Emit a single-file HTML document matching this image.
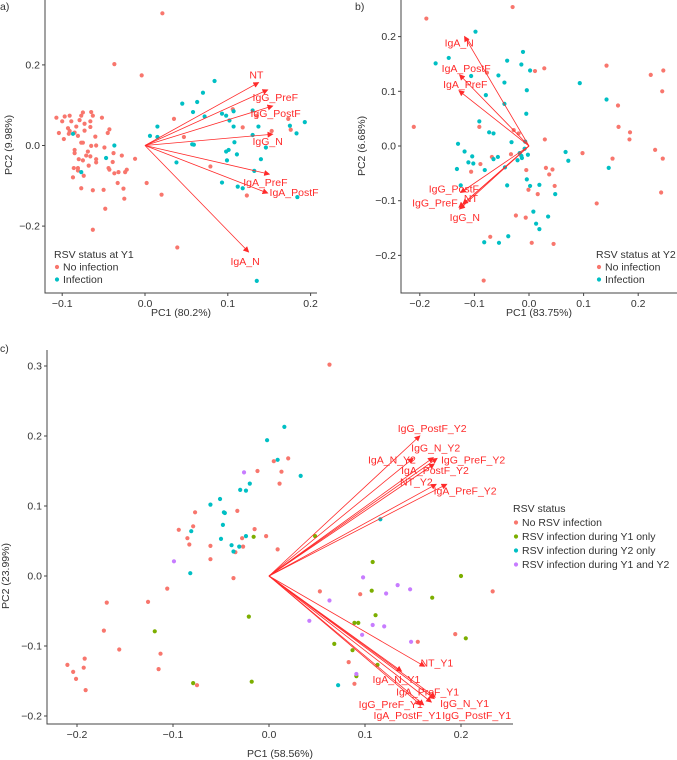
<!DOCTYPE html>
<html><head><meta charset="utf-8"><style>
body{margin:0;background:#fff;}
svg{display:block;font-family:"Liberation Sans",sans-serif;}
text{fill:#333;}
.lab{fill:#ff2a2a;font-size:10.5px;}
</style></head><body>
<svg id="chart" width="677" height="760" viewBox="0 0 677 760" xmlns="http://www.w3.org/2000/svg">
<defs><marker id="ah" markerWidth="6" markerHeight="6" refX="5" refY="3" orient="auto" markerUnits="userSpaceOnUse"><path d="M0,0 L6,3 L0,6 Z" fill="#ff2a2a"/></marker></defs>
</svg>
<script>
// ===== Panel a data =====
const aNoInfX=[0.021,-0.037,-0.004,0.035,0.047,0.002,0.020,0.039,-0.063,-0.048,-0.050,-0.063,-0.077,-0.033,-0.026,-0.025,-0.012,-0.022,-0.024,-0.028,-0.039,-0.044,-0.043,-0.037,-0.032,-0.038,-0.049,-0.059,-0.060,-0.065,-0.066,-0.059,-0.059,-0.068,-0.075,-0.080,-0.086,-0.087,-0.074,-0.081,-0.081,-0.071,-0.069,-0.085,-0.085,-0.077,-0.075,-0.081,-0.085,-0.092,-0.098,-0.104,-0.107,-0.100,-0.097,-0.091,-0.089,-0.093,-0.091,-0.083,-0.079,-0.077,-0.075,-0.073,-0.073,-0.066,-0.066,-0.065,-0.063,-0.052,-0.043,-0.045,0.106,0.118,0.135,0.153,0.173,0.176,0.079,0.123];
const aNoInfY=[0.328,0.202,0.174,0.066,0.021,-0.093,-0.122,-0.253,-0.209,-0.157,-0.110,-0.111,-0.106,-0.093,-0.107,-0.132,-0.033,-0.060,-0.066,-0.025,-0.041,-0.056,-0.060,-0.069,-0.066,-0.019,-0.005,0.000,0.022,-0.001,-0.027,-0.034,-0.042,-0.050,-0.037,-0.034,-0.056,-0.079,-0.075,-0.056,-0.062,-0.025,-0.015,-0.019,-0.011,0.007,0.007,0.024,0.032,0.029,0.016,0.031,0.069,0.060,0.072,0.074,0.060,0.043,0.036,0.047,0.063,0.074,0.082,0.054,0.037,0.060,0.046,0.083,0.074,0.069,0.040,0.031,0.090,0.045,0.074,0.036,0.066,0.039,-0.052,-0.124];
const aInfX=[0.084,0.070,0.063,0.045,0.058,0.072,0.093,0.098,0.107,0.102,0.107,0.130,0.137,0.130,0.146,0.108,0.101,0.098,0.099,0.111,0.140,0.132,0.093,0.112,0.118,0.184,0.175,0.183,0.193,0.015,0.015,0.006,0.038,0.057,0.059,0.135,-0.037,-0.047,-0.087,-0.077];
const aInfY=[0.160,0.131,0.108,0.104,0.083,0.072,0.079,0.074,0.085,0.062,0.047,0.087,0.047,0.026,-0.005,0.008,-0.011,-0.015,-0.037,-0.022,-0.034,-0.063,-0.092,-0.102,-0.106,-0.128,0.049,0.030,0.058,0.047,0.021,0.024,-0.042,0.003,0.002,-0.336,0.000,-0.031,0.029,-0.066];
const aVarNames=["NT","IgG_PreF","IgG_PostF","IgG_N","IgA_PreF","IgA_PostF","IgA_N"];
const aVarX=[0.137,0.148,0.154,0.154,0.150,0.148,0.125];
const aVarY=[0.156,0.138,0.098,0.028,-0.071,-0.118,-0.264];
const aXTicks=[-0.1,0.0,0.1,0.2];
const aYTicks=[-0.2,0.0,0.2];
const aLabOff=[[-9,-8],[-15,7],[-22,7],[-20,7],[-26,8],[2,-1],[-18,9]];
// ===== Panel b data =====
const bNoInfX=[-0.030,-0.188,-0.211,-0.077,0.011,0.028,0.142,0.223,0.246,0.244,0.163,0.164,0.185,0.184,0.231,0.245,0.242,0.153,0.098,0.124,0.029,-0.028,-0.019,-0.091,-0.033,-0.068,-0.089,-0.106,-0.005,0.031,0.043,0.037,0.047,-0.001,0.016,-0.024,-0.006,0.005,-0.071,0.045,-0.083];
const bNoInfY=[0.254,0.233,0.035,0.134,0.137,0.142,0.147,0.130,0.138,0.100,0.074,0.035,0.025,0.012,-0.007,-0.023,-0.085,-0.023,-0.013,-0.105,0.012,0.029,0.023,0.035,-0.015,-0.020,-0.033,-0.047,-0.044,-0.040,-0.043,-0.052,-0.073,-0.080,-0.088,-0.127,-0.131,-0.177,-0.166,-0.179,-0.246];
const bInfX=[-0.098,-0.147,-0.171,-0.011,-0.040,-0.014,0.002,-0.056,-0.106,-0.045,-0.004,-0.079,0.093,0.142,-0.045,-0.005,-0.091,-0.073,-0.065,-0.032,-0.007,-0.130,-0.118,-0.104,-0.111,-0.102,-0.132,-0.081,-0.057,-0.065,-0.044,-0.017,-0.014,-0.013,-0.021,-0.002,-0.008,0.067,0.072,0.146,-0.004,0.002,0.019,0.048,-0.040,-0.125,0.008,0.013,0.019,0.035,-0.038,-0.055,-0.082];
const bInfY=[0.209,0.161,0.151,0.172,0.156,0.149,0.138,0.129,0.128,0.116,0.102,0.093,0.115,0.085,0.077,0.059,0.045,0.025,0.023,0.007,0.008,0.004,-0.010,-0.019,-0.030,-0.032,-0.042,-0.044,-0.020,-0.024,-0.039,-0.013,-0.018,-0.022,-0.026,-0.016,-0.005,-0.011,-0.027,-0.040,-0.061,-0.073,-0.071,-0.088,-0.072,-0.072,-0.120,-0.142,-0.152,-0.129,-0.165,-0.177,-0.176];
const bVarNames=["IgA_N","IgA_PostF","IgA_PreF","IgG_PostF","IgG_PreF","NT","IgG_N"];
const bVarX=[-0.118,-0.127,-0.128,-0.125,-0.128,-0.121,-0.127];
const bVarY=[0.200,0.130,0.101,-0.085,-0.112,-0.106,-0.115];
const bXTicks=[-0.2,-0.1,0.0,0.1,0.2];
const bYTicks=[-0.2,-0.1,0.0,0.1,0.2];
const bLabOff=[[-20,6],[-18,-7],[-16,-7],[-32,-4],[-47,-5],[1,-6],[-10,8]];
// ===== Panel c data =====
const cNoX=[0.063,0.005,0.020,0.013,0.011,-0.012,-0.033,-0.077,-0.079,-0.094,-0.085,-0.083,-0.061,-0.061,-0.028,-0.027,-0.035,-0.015,-0.003,0.009,-0.037,-0.106,-0.126,-0.169,-0.172,-0.156,-0.113,-0.115,-0.210,-0.204,-0.201,-0.192,-0.193,-0.191,-0.075,0.053,0.095,0.233,0.194,0.155,0.083,0.089];
const cNoY=[0.302,0.164,0.168,0.149,0.132,0.150,0.093,0.091,0.071,0.066,0.054,0.045,0.043,0.024,0.054,0.042,0.034,0.067,0.057,0.038,-0.003,-0.018,-0.037,-0.038,-0.078,-0.105,-0.111,-0.133,-0.127,-0.137,-0.147,-0.118,-0.131,-0.163,-0.156,-0.022,-0.026,-0.022,-0.083,-0.094,-0.123,-0.154];
const cY1X=[0.108,0.200,0.107,0.170,0.111,0.089,0.093,0.205,0.068,0.087,0.113,0.091,0.048,-0.016,-0.021,-0.119,-0.079,-0.018];
const cY1Y=[0.020,0.000,-0.021,-0.031,-0.056,-0.067,-0.067,-0.089,-0.097,-0.106,-0.127,-0.143,0.057,0.056,-0.058,-0.079,-0.153,-0.151];
const cY2X=[0.016,-0.002,0.009,0.033,-0.020,-0.030,-0.024,-0.051,-0.061,-0.047,-0.046,-0.048,-0.081,-0.024,-0.050,-0.039,-0.031,-0.037,-0.082,0.116,0.072];
const cY2Y=[0.213,0.194,0.166,0.143,0.132,0.123,0.122,0.110,0.102,0.091,0.090,0.073,0.064,0.057,0.053,0.044,0.042,0.035,0.004,0.081,-0.156];
const cBothX=[-0.026,-0.099,0.098,0.134,0.147,0.122,0.063,0.042,0.108,0.120,0.097,0.148,0.091];
const cBothY=[0.148,0.021,-0.002,-0.013,-0.019,-0.025,-0.035,-0.064,-0.070,-0.072,-0.084,-0.094,-0.140];
const cVarNames=["IgG_PostF_Y2","IgG_N_Y2","IgA_N_Y2","IgG_PreF_Y2","IgA_PostF_Y2","NT_Y2","IgA_PreF_Y2","NT_Y1","IgA_N_Y1","IgA_PreF_Y1","IgG_N_Y1","IgG_PostF_Y1","IgG_PreF_Y1","IgA_PostF_Y1"];
const cVarX=[0.157,0.171,0.150,0.175,0.172,0.174,0.185,0.162,0.138,0.172,0.173,0.169,0.158,0.161];
const cVarY=[0.200,0.169,0.168,0.168,0.160,0.131,0.131,-0.129,-0.136,-0.175,-0.173,-0.180,-0.184,-0.184];
const cXTicks=[-0.2,-0.1,0.0,0.1,0.2];
const cYTicks=[-0.2,-0.1,0.0,0.1,0.2,0.3];
const cLabOff=[[-22,-8],[-22,-10],[-45,1],[4,1],[-33,6],[-36,-3],[-13,6],[-4,-4],[-29,8],[-38,-7],[5,6],[11,13],[-62,-1],[-50,10]];

const RED="#F8766D",CYAN="#00BFC4",GREEN="#7CAE00",PURPLE="#C77CFF",AX="#444";
const svg=document.getElementById('chart');
const NS="http://www.w3.org/2000/svg";
function mk(tag,attrs,parent){const e=document.createElementNS(NS,tag);for(const k in attrs)e.setAttribute(k,attrs[k]);(parent||svg).appendChild(e);return e;}
function fmt(v){return v===0?"0.0":(v<0?"\u2212":"")+Math.abs(v).toFixed(1);}

function panel(cfg){
  const g=mk('g',{});
  
  
  const sx=v=>cfg.x0+v*cfg.kx, sy=v=>cfg.y0-v*cfg.ky;
  const ax=mk('path',{d:`M${cfg.left},${cfg.top} V${cfg.bottom} H${cfg.right}`,stroke:AX,'stroke-width':1,fill:'none'},g);
  
  
  cfg.xt.forEach(t=>{
    const l=mk('line',{x1:sx(t),x2:sx(t),y1:cfg.bottom,y2:cfg.bottom+3,stroke:AX},g);
    
    
    const tx=mk('text',{x:sx(t),y:cfg.bottom+14,'text-anchor':'middle','font-size':10.5},g);
    tx.textContent=fmt(t);
    
    
  });
  cfg.yt.forEach(t=>{
    const l=mk('line',{x1:cfg.left-3,x2:cfg.left,y1:sy(t),y2:sy(t),stroke:AX},g);
    
    
    const tx=mk('text',{x:cfg.left-5,y:sy(t)+3.5,'text-anchor':'end','font-size':10.5},g);
    tx.textContent=fmt(t);
    
    
  });
  const xt=mk('text',{x:cfg.xtx,y:cfg.xty,'text-anchor':'middle','font-size':10.5},g);
  xt.textContent=cfg.xtitle;
  
  
  const yt=mk('text',{x:0,y:0,'text-anchor':'middle','font-size':10.5,transform:`translate(${cfg.ytx},${cfg.yty}) rotate(-90)`},g);
  yt.textContent=cfg.ytitle;
  
  
  const pl=mk('text',{x:cfg.plx,y:cfg.ply,'font-size':10.5},g);
  pl.textContent=cfg.plabel;
  
  
  cfg.series.forEach(s=>{
    s.xs.forEach((v,i)=>{
      const c=mk('circle',{cx:sx(v),cy:sy(s.ys[i]),r:2.1,fill:s.color},g);
      
      
    });
  });
  cfg.vn.forEach((n,i)=>{
    const l=mk('line',{x1:sx(0),y1:sy(0),x2:sx(cfg.vx[i]),y2:sy(cfg.vy[i]),stroke:'#ff2a2a','stroke-width':0.8,'marker-end':'url(#ah)'},g);
    
    
    const t=mk('text',{x:sx(cfg.vx[i])+cfg.off[i][0],y:sy(cfg.vy[i])+cfg.off[i][1]+4,class:'lab'},g);
    t.textContent=n;
    
    
  });
  const lg=mk('g',{},g);
  
  
  const lt=mk('text',{x:cfg.lgx-3,y:cfg.lgy,'font-size':10.5},lg);
  lt.textContent=cfg.lgtitle;
  
  
  cfg.series.forEach((s,i)=>{
    const yy=cfg.lgy+cfg.lgstep*(i+1);
    const d=mk('circle',{cx:cfg.lgx,cy:yy-3.5,r:2.1,fill:s.color},lg);
    
    
    const t=mk('text',{x:cfg.lgx+6,y:yy,'font-size':10.5},lg);
    t.textContent=s.label;
    
    
  });
}

panel({name:'panel-a',x0:145,kx:828,y0:145.5,ky:403,left:45,right:317,top:0,bottom:293,xt:aXTicks,yt:aYTicks,
  xtitle:'PC1 (80.2%)',xtx:181,xty:316,ytitle:'PC2 (9.98%)',ytx:12,yty:145,plabel:'a)',plx:0,ply:10,
  series:[{xs:aNoInfX,ys:aNoInfY,color:RED,label:'No infection',pname:'point-no-infection'},{xs:aInfX,ys:aInfY,color:CYAN,label:'Infection',pname:'point-infection'}],
  vn:aVarNames,vx:aVarX,vy:aVarY,off:aLabOff,lgtitle:'RSV status at Y1',lgx:57,lgy:258,lgstep:12.5});
panel({name:'panel-b',x0:529,kx:546,y0:146,ky:547,left:401,right:677,top:0,bottom:293,xt:bXTicks,yt:bYTicks,
  xtitle:'PC1 (83.75%)',xtx:539,xty:316,ytitle:'PC2 (6.68%)',ytx:365,yty:146,plabel:'b)',plx:355,ply:10,
  series:[{xs:bNoInfX,ys:bNoInfY,color:RED,label:'No infection',pname:'point-no-infection'},{xs:bInfX,ys:bInfY,color:CYAN,label:'Infection',pname:'point-infection'}],
  vn:bVarNames,vx:bVarX,vy:bVarY,off:bLabOff,lgtitle:'RSV status at Y2',lgx:599,lgy:258,lgstep:12.5});
panel({name:'panel-c',x0:269,kx:960,y0:576,ky:700,left:47,right:513,top:350,bottom:724,xt:cXTicks,yt:cYTicks,
  xtitle:'PC1 (58.56%)',xtx:280,xty:757,ytitle:'PC2 (23.99%)',ytx:9,yty:576,plabel:'c)',plx:0,ply:352,
  series:[{xs:cNoX,ys:cNoY,color:RED,label:'No RSV infection',pname:'point-no-rsv'},{xs:cY1X,ys:cY1Y,color:GREEN,label:'RSV infection during Y1 only',pname:'point-y1-only'},{xs:cY2X,ys:cY2Y,color:CYAN,label:'RSV infection during Y2 only',pname:'point-y2-only'},{xs:cBothX,ys:cBothY,color:PURPLE,label:'RSV infection during Y1 and Y2',pname:'point-y1-and-y2'}],
  vn:cVarNames,vx:cVarX,vy:cVarY,off:cLabOff,lgtitle:'RSV status',lgx:516,lgy:512,lgstep:14});
</script>
</body></html>
